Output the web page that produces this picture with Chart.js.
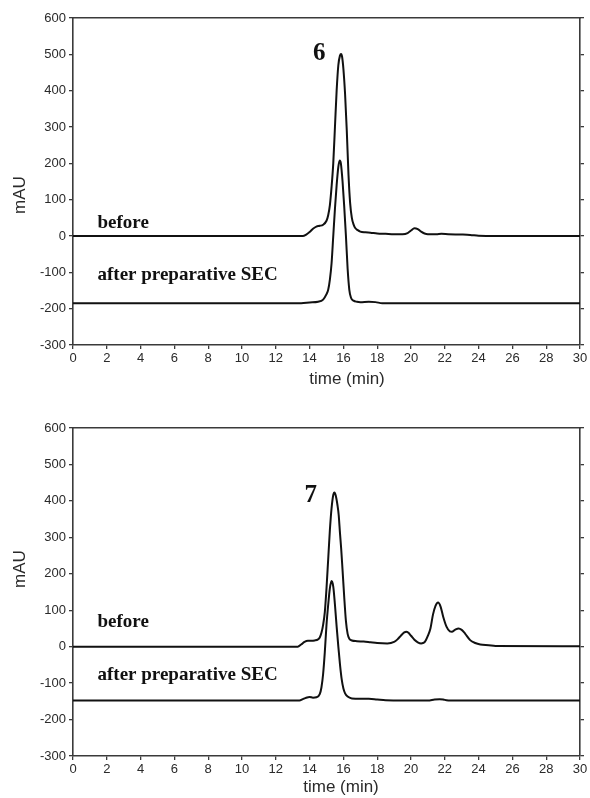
<!DOCTYPE html>
<html><head><meta charset="utf-8">
<script src="https://cdn.jsdelivr.net/npm/chart.js@4.4.1/dist/chart.umd.min.js"></script>
<style>
html,body{margin:0;padding:0;background:#fff;}
#wrap{position:relative;width:590px;height:798px;overflow:hidden;}
.box{position:absolute;left:0;width:590px;}
#b1{top:0;height:398px;}
#b2{top:398px;height:400px;}
</style></head><body>
<div id="wrap">
  <div class="box" id="b1"><canvas id="c1"></canvas></div>
  <div class="box" id="b2"><canvas id="c2"></canvas></div>
</div>
<script>
// ---- axes / labels ----
const timeLimits = [0, 30];
const mauLimits = [-300, 600];
const timeTickStep = 2;
const mauTickStep = 100;
const xAxisTitle = 'time (min)';
const yAxisTitle = 'mAU';
const traceLabels = ['before', 'after preparative SEC'];
const compoundLabels = ['6', '7'];

// ---- compound 6 (top panel) ----
const c6BeforeTime = [0,13.6,13.8,14.0,14.2,14.4,14.6,14.8,15.0,15.1,15.2,15.3,15.4,15.5,15.6,15.7,15.8,15.86,15.92,16.0,16.1,16.2,16.3,16.4,16.5,16.6,16.7,16.85,17.0,17.3,17.6,18.0,18.5,19.0,19.5,19.8,20.0,20.2,20.4,20.6,20.8,21.0,21.5,21.8,22.2,23.0,23.5,24.0,25.0,30];
const c6BeforeMAU  = [0,0,4,11,20,26,28,31,42,57,85,135,200,300,400,470,497,501,494,460,390,290,170,90,50,32,22,16,12,10,9,7,6,5,5,8,15,21,19,12,7,5,5,6,5,4,3,1,0,0];
const c6AfterTime  = [0,13.5,14.0,14.5,14.8,15.0,15.1,15.2,15.3,15.4,15.5,15.6,15.7,15.78,15.85,15.95,16.05,16.15,16.25,16.35,16.45,16.6,16.8,17.0,17.5,17.9,18.3,30];
const c6AfterMAU   = [-185,-185,-183,-181,-175,-160,-148,-120,-75,0,75,140,190,208,200,150,80,0,-90,-148,-170,-178,-181,-182,-181,-182,-185,-185];

// ---- compound 7 (bottom panel) ----
const c7BeforeTime = [0,13.3,13.5,13.7,13.9,14.1,14.3,14.5,14.6,14.7,14.8,14.9,15.0,15.1,15.2,15.3,15.4,15.47,15.55,15.65,15.72,15.8,15.87,15.95,16.05,16.15,16.25,16.35,16.5,16.8,17.2,17.6,18.0,18.6,19.0,19.2,19.4,19.6,19.72,19.85,20.0,20.2,20.4,20.6,20.8,21.0,21.15,21.3,21.45,21.6,21.75,21.9,22.1,22.3,22.42,22.6,22.82,23.0,23.2,23.5,23.8,24.1,24.6,25.0,30];
const c7BeforeMAU  = [0,0,6,13,16,16,17,20,25,38,60,95,160,240,320,380,416,423,414,388,362,310,268,210,135,70,35,22,17,15,14,12,10,9,13,20,30,39,41,38,30,19,12,9,12,30,50,88,112,121,110,83,55,42,41,46,50,46,36,18,10,6,4,2,1];
const c7AfterTime  = [0,13.4,13.6,13.8,14.0,14.2,14.4,14.6,14.7,14.8,14.9,15.0,15.1,15.2,15.3,15.4,15.5,15.6,15.7,15.8,15.9,16.0,16.1,16.25,16.5,17.0,17.5,18.0,18.5,19.5,21.0,21.4,21.7,22.0,22.3,30];
const c7AfterMAU   = [-148,-148,-144,-140,-138,-140,-139,-130,-112,-75,-15,60,115,160,180,165,115,55,0,-50,-90,-115,-128,-137,-142,-143,-143,-145,-147,-148,-148,-145,-144,-146,-148,-148];

const pts = (xs, ys) => xs.map((x, i) => ({x: x, y: ys[i]}));

const AX = '#3a3a3a';
const TXT = '#2a2a2a';
const SANS = '"Liberation Sans", Arial, sans-serif';
const SERIF = '"Liberation Serif", "Times New Roman", serif';

function makeChart(canvasId, cfg) {
  const textPlugin = {
    id: 'texts',
    afterDatasetsDraw(chart) {
      const ctx = chart.ctx;
      const xs = chart.scales.x, ys = chart.scales.y;
      ctx.save();
      ctx.fillStyle = '#111';
      ctx.textAlign = 'left';
      ctx.textBaseline = 'alphabetic';
      ctx.font = 'bold 19px ' + SERIF;
      ctx.fillText(traceLabels[0], xs.getPixelForValue(cfg.lblT), ys.getPixelForValue(cfg.beforeY));
      ctx.fillText(traceLabels[1], xs.getPixelForValue(cfg.lblT), ys.getPixelForValue(cfg.afterY));
      ctx.font = 'bold 25px ' + SERIF;
      ctx.fillText(cfg.compound, xs.getPixelForValue(cfg.cmpT), ys.getPixelForValue(cfg.cmpY));
      // axis titles
      ctx.fillStyle = TXT;
      ctx.font = '17px ' + SANS;
      ctx.textAlign = 'center';
      ctx.textBaseline = 'middle';
      ctx.fillText(xAxisTitle, cfg.xTitlePos[0], cfg.xTitlePos[1]);
      ctx.translate(cfg.yTitlePos[0], cfg.yTitlePos[1]);
      ctx.rotate(-Math.PI / 2);
      ctx.fillText(yAxisTitle, 0, 0);
      ctx.restore();
    }
  };
  const lineDs = (data) => ({
    data: data, borderColor: '#111', borderWidth: 2, pointRadius: 0,
    fill: false, cubicInterpolationMode: 'monotone'
  });
  const gridCommon = {drawOnChartArea: false, drawTicks: true, tickLength: 4, color: AX, lineWidth: 1.3};
  const borderCommon = {display: true, color: AX, width: 1.6};
  return new Chart(document.getElementById(canvasId), {
    type: 'line',
    data: {datasets: [lineDs(cfg.before), lineDs(cfg.after)]},
    options: {
      responsive: true, maintainAspectRatio: false, animation: false,
      devicePixelRatio: 1,
      layout: {padding: {top: cfg.padTop, right: 0, left: 0, bottom: 0}},
      plugins: {legend: {display: false}, tooltip: {enabled: false}},
      scales: {
        x: {type: 'linear', position: 'bottom', min: timeLimits[0], max: timeLimits[1],
            ticks: {stepSize: timeTickStep, color: TXT, font: {family: SANS, size: 13}, padding: 2, maxRotation: 0, autoSkip: false},
            grid: gridCommon, border: borderCommon,
            afterFit(s) { s.height = cfg.xH; }},
        x2: {type: 'linear', position: 'top', min: timeLimits[0], max: timeLimits[1],
            ticks: {display: false}, grid: {display: false}, border: borderCommon,
            afterFit(s) { s.height = 0; }},
        y: {type: 'linear', position: 'left', min: mauLimits[0], max: mauLimits[1],
            ticks: {stepSize: mauTickStep, color: TXT, font: {family: SANS, size: 13}, padding: 3},
            grid: gridCommon, border: borderCommon,
            afterFit(s) { s.width = 73; }},
        y2: {type: 'linear', position: 'right', min: mauLimits[0], max: mauLimits[1],
            ticks: {display: false, stepSize: mauTickStep},
            grid: gridCommon, border: borderCommon,
            afterFit(s) { s.width = 10; }}
      }
    },
    plugins: [textPlugin]
  });
}

makeChart('c1', {
  before: pts(c6BeforeTime, c6BeforeMAU), after: pts(c6AfterTime, c6AfterMAU),
  padTop: 18, xH: 53, compound: compoundLabels[0],
  lblT: 1.45, beforeY: 22, afterY: -121, cmpT: 14.2, cmpY: 484,
  xTitlePos: [347, 379], yTitlePos: [20, 195]
});
makeChart('c2', {
  before: pts(c7BeforeTime, c7BeforeMAU), after: pts(c7AfterTime, c7AfterMAU),
  padTop: 30, xH: 42, compound: compoundLabels[1],
  lblT: 1.45, beforeY: 54, afterY: -91, cmpT: 13.7, cmpY: 397,
  xTitlePos: [341, 389], yTitlePos: [20, 171]
});
</script>
</body></html>
